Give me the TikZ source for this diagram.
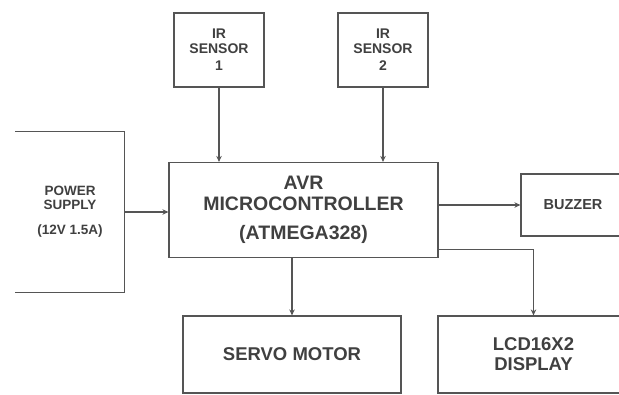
\documentclass[tikz,border=0pt]{standalone}
\usepackage{fontspec}
\setmainfont{Liberation Sans}
\usetikzlibrary{arrows.meta,positioning,calc}
\definecolor{linegray}{HTML}{555555}
\definecolor{textgray}{HTML}{404040}
\tikzset{
  >={Stealth[length=6pt,width=5.5pt]},
  box/.style={draw=linegray, line width=1.2pt, inner sep=0pt, align=center, text=textgray},
  sensorbox/.style={box, minimum width=90pt, minimum height=74pt, font=\bfseries\fontsize{14}{15}\selectfont},
  mcubox/.style={box, minimum width=269pt, minimum height=95pt, font=\bfseries\fontsize{19.5}{21}\selectfont},
  powerbox/.style={box, draw=none, minimum width=108pt, minimum height=160pt, font=\bfseries\fontsize{13.5}{14}\selectfont},
  outbox/.style={box, minimum height=77pt, font=\bfseries\fontsize{18.5}{20}\selectfont},
  buzzbox/.style={box, minimum width=104pt, minimum height=62pt, font=\bfseries\fontsize{14.5}{16}\selectfont},
  thinarrow/.style={->, draw=linegray, line width=1.2pt},
}

\begin{document}
\begin{tikzpicture}[x=1pt, y=-1pt]
  \useasboundingbox (0,0) rectangle (619,394);
  \clip (0,0) rectangle (619,394);

  \node[sensorbox] (ir1) at (219,50) {IR\\SENSOR\\[2pt]1};
  \node[sensorbox] (ir2) at (383,50) {IR\\SENSOR\\[2pt]2};
  \node[mcubox] (mcu) at (303.5,210) {AVR\\MICROCONTROLLER\\[8pt](ATMEGA328)};
  \node[powerbox] (power) at (70,212) {POWER\\SUPPLY\\[11pt](12V 1.5A)};
  \node[buzzbox] (buzzer) at (573,205) {BUZZER};
  \node[outbox, minimum width=218pt] (servo) at (292,354.5) {SERVO MOTOR};
  \node[outbox, minimum width=191pt] (lcd) at (533.5,354.5) {LCD16X2\\DISPLAY};

  % supply box is open on its left side
  \draw[linegray, line width=1.2pt] (power.north west) -- (power.north east) -- (power.south east) -- (power.south west);

  \draw[thinarrow] (ir1.south) -- (ir1.south |- mcu.north);
  \draw[thinarrow] (ir2.south) -- (ir2.south |- mcu.north);
  \draw[thinarrow] (power.east) -- (power.east -| mcu.west);
  \draw[thinarrow] (mcu.east |- buzzer.west) -- (buzzer.west);
  \draw[thinarrow] (mcu.south -| servo.north) -- (servo.north);
  \draw[thinarrow] ([yshift=9pt]mcu.south east) -| (lcd.north);
\end{tikzpicture}
\end{document}
